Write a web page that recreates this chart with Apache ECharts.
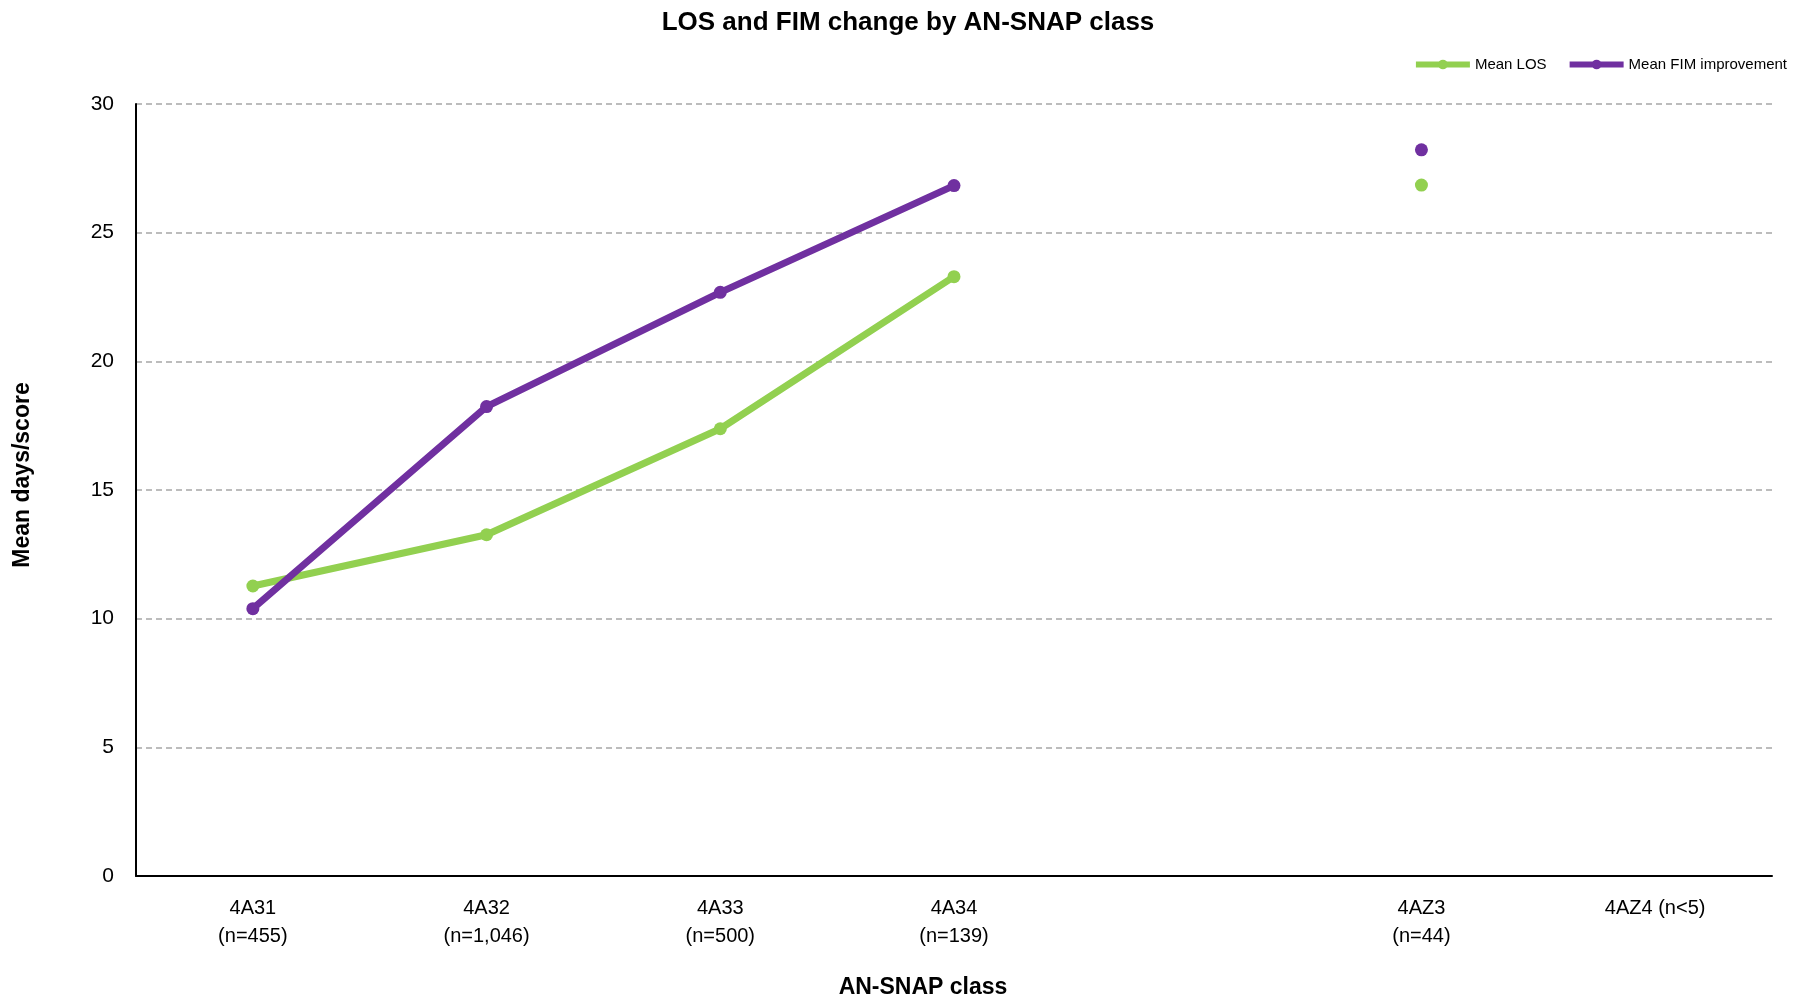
<!DOCTYPE html>
<html>
<head>
<meta charset="utf-8">
<script src="https://cdn.jsdelivr.net/npm/echarts@6/dist/echarts.min.js"></script>
<style>
  html, body { margin: 0; padding: 0; background: #fff; }
  #main { width: 1816px; height: 1004px; }
</style>
</head>
<body>
<div id="main"></div>
<script>
const categories = ['4A31\n(n=455)', '4A32\n(n=1,046)', '4A33\n(n=500)', '4A34\n(n=139)', '', '4AZ3\n(n=44)', '4AZ4 (n<5)'];
const meanLos = [11.27, 13.26, 17.38, 23.29, null, 26.85, null];
const meanFim = [10.39, 18.24, 22.68, 26.83, null, 28.22, null];
const yTicks = [0, 5, 10, 15, 20, 25, 30];

const font = '"Liberation Sans Narrow", "Arial Narrow", "Liberation Sans", sans-serif';
const green = '#92D050';
const purple = '#7030A0';

const chart = echarts.init(document.getElementById('main'));
chart.setOption({
  animation: false,
  textStyle: { fontFamily: font },
  title: {
    text: 'LOS and FIM change by AN-SNAP class',
    left: 'center',
    top: 5,
    textStyle: { fontSize: 26, fontWeight: 'bold', color: '#000', fontFamily: font }
  },
  legend: {
    right: 24,
    top: 52,
    itemWidth: 54,
    itemHeight: 12,
    itemGap: 20,
    lineStyle: { width: 6 },
    textStyle: { fontSize: 15, color: '#000', fontFamily: font },
    data: ['Mean LOS', 'Mean FIM improvement']
  },
  grid: { left: 136, right: 44, top: 104, bottom: 126 },
  xAxis: {
    type: 'category',
    data: categories,
    name: 'AN-SNAP class',
    nameLocation: 'middle',
    nameGap: 100,
    nameTextStyle: { fontSize: 23, fontWeight: 'bold', color: '#000', padding: [0, 62, 0, 0] },
    axisLine: { lineStyle: { color: '#000', width: 2 } },
    axisTick: { show: false },
    axisLabel: {
      color: '#000', fontSize: 20, lineHeight: 28, margin: 18, interval: 0,
      verticalAlign: 'top'
    },
    splitLine: { show: false }
  },
  yAxis: {
    type: 'value',
    min: yTicks[0],
    max: yTicks[yTicks.length - 1],
    interval: 5,
    name: 'Mean days/score',
    nameLocation: 'middle',
    nameGap: 102,
    nameTextStyle: { fontSize: 23, fontWeight: 'bold', color: '#000', padding: [0, 0, 0, 30] },
    axisLine: { show: true, lineStyle: { color: '#000', width: 2 } },
    axisTick: { show: false },
    axisLabel: { color: '#000', fontSize: 21, margin: 22 },
    splitLine: { lineStyle: { color: '#A6A6A6', width: 1.5, type: [6, 4] } }
  },
  series: [
    {
      name: 'Mean LOS',
      type: 'line',
      data: meanLos,
      connectNulls: false,
      symbol: 'circle',
      symbolSize: 13,
      lineStyle: { color: green, width: 7 },
      itemStyle: { color: green }
    },
    {
      name: 'Mean FIM improvement',
      type: 'line',
      data: meanFim,
      connectNulls: false,
      symbol: 'circle',
      symbolSize: 13,
      lineStyle: { color: purple, width: 7 },
      itemStyle: { color: purple }
    }
  ]
});
</script>
</body>
</html>
